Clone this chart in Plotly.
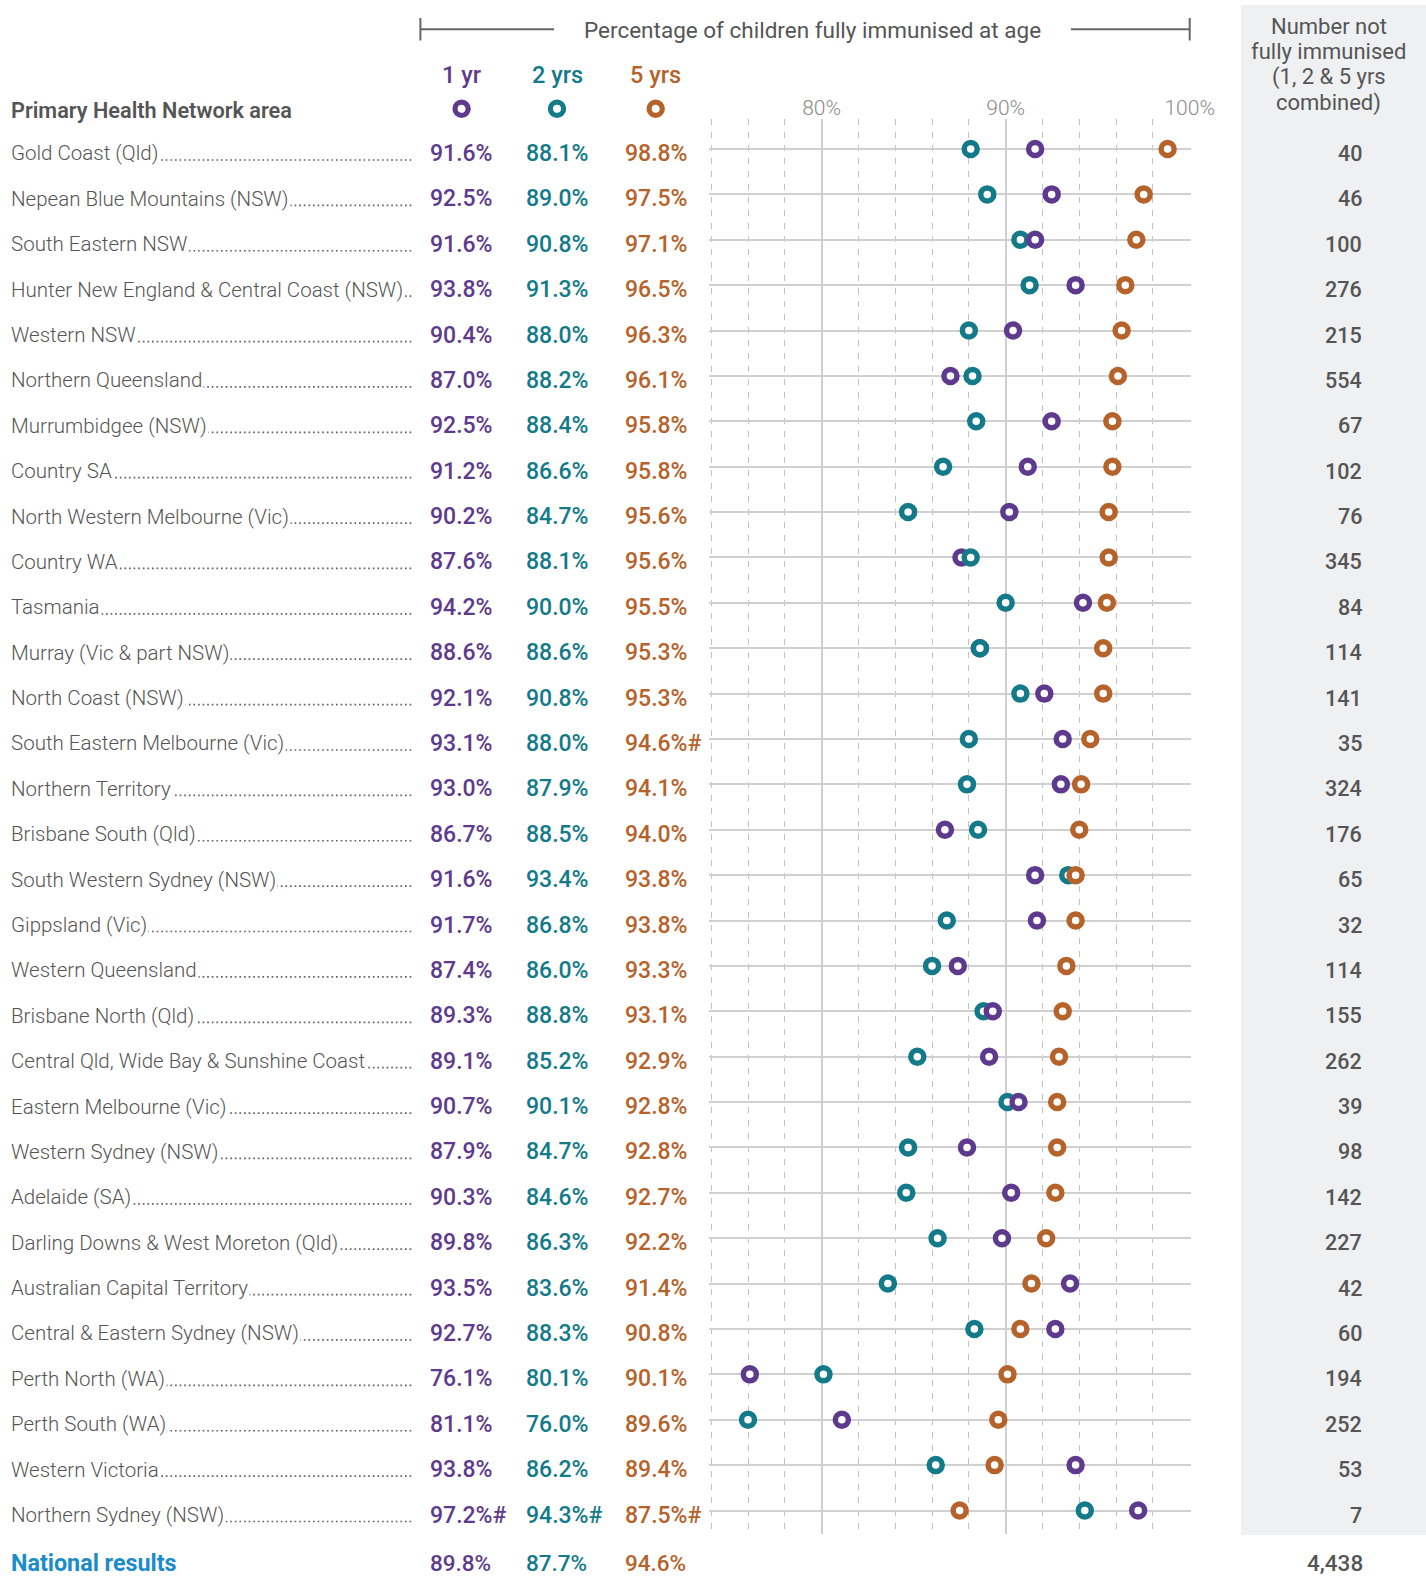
import plotly.graph_objects as go

IMG_W, H = 1426, 1577     # reference picture size (pixel readings below are in this space)
W = 1450                  # layout width used for the page

areas = [
    "Gold Coast (Qld)", "Nepean Blue Mountains (NSW)", "South Eastern NSW",
    "Hunter New England & Central Coast (NSW)", "Western NSW", "Northern Queensland",
    "Murrumbidgee (NSW)", "Country SA", "North Western Melbourne (Vic)", "Country WA",
    "Tasmania", "Murray (Vic & part NSW)", "North Coast (NSW)", "South Eastern Melbourne (Vic)",
    "Northern Territory", "Brisbane South (Qld)", "South Western Sydney (NSW)", "Gippsland (Vic)",
    "Western Queensland", "Brisbane North (Qld)", "Central Qld, Wide Bay & Sunshine Coast",
    "Eastern Melbourne (Vic)", "Western Sydney (NSW)", "Adelaide (SA)",
    "Darling Downs & West Moreton (Qld)", "Australian Capital Territory",
    "Central & Eastern Sydney (NSW)", "Perth North (WA)", "Perth South (WA)",
    "Western Victoria", "Northern Sydney (NSW)",
]
pct_1yr = [91.6, 92.5, 91.6, 93.8, 90.4, 87.0, 92.5, 91.2, 90.2, 87.6, 94.2, 88.6, 92.1, 93.1, 93.0,
           86.7, 91.6, 91.7, 87.4, 89.3, 89.1, 90.7, 87.9, 90.3, 89.8, 93.5, 92.7, 76.1, 81.1, 93.8, 97.2]
pct_2yr = [88.1, 89.0, 90.8, 91.3, 88.0, 88.2, 88.4, 86.6, 84.7, 88.1, 90.0, 88.6, 90.8, 88.0, 87.9,
           88.5, 93.4, 86.8, 86.0, 88.8, 85.2, 90.1, 84.7, 84.6, 86.3, 83.6, 88.3, 80.1, 76.0, 86.2, 94.3]
pct_5yr = [98.8, 97.5, 97.1, 96.5, 96.3, 96.1, 95.8, 95.8, 95.6, 95.6, 95.5, 95.3, 95.3, 94.6, 94.1,
           94.0, 93.8, 93.8, 93.3, 93.1, 92.9, 92.8, 92.8, 92.7, 92.2, 91.4, 90.8, 90.1, 89.6, 89.4, 87.5]
not_immunised = [40, 46, 100, 276, 215, 554, 67, 102, 76, 345, 84, 114, 141, 35, 324, 176, 65, 32,
                 114, 155, 262, 39, 98, 142, 227, 42, 60, 194, 252, 53, 7]
flag_1yr = [30]
flag_2yr = [30]
flag_5yr = [13, 30]
national = [89.8, 87.7, 94.6]
national_not = 4438
series_labels = ["1 yr", "2 yrs", "5 yrs"]
x_ticks = [80, 90, 100]

C1, C2, C5 = "#5e3a8e", "#137a8a", "#b5632a"
colors = [C1, C2, C5]
GREY = "#555555"
FONT = "Roboto, Liberation Sans, Arial, sans-serif"

n = len(areas)
rows = list(range(n))

def px(x):
    return x / IMG_W

def py(y):
    return 1 - y / H

ROW0_PX, ROWN_PX = 149.0, 1510.5
ROW_STEP = (ROWN_PX - ROW0_PX) / (n - 1)
TOP_PX, BOT_PX = 118.5, 1534.0
# x scale: 74% at 711.2 px, 100% at 1189.7 px; the range is padded a little so the
# edge grid lines are kept
X74_PX, X100_PX = 711.2, 1189.7
PX_PER_PCT = (X100_PX - X74_PX) / 26
X_MIN, X_MAX = 73.9, 100.05
X_LEFT_PX = X74_PX - (74 - X_MIN) * PX_PER_PCT
X_RIGHT_PX = X100_PX + (X_MAX - 100) * PX_PER_PCT
y_top = (TOP_PX - ROW0_PX) / ROW_STEP
y_bot = (BOT_PX - ROW0_PX) / ROW_STEP
TXT_OFF = 4.5 / ROW_STEP

fig = go.Figure()

series = [pct_1yr, pct_2yr, pct_5yr]
for rank in range(3):
    xs, cs = [], []
    for i in rows:
        vals = sorted([(series[k][i], k) for k in range(3)])
        v, k = vals[rank]
        xs.append(v)
        cs.append(colors[k])
    fig.add_trace(go.Scatter(
        x=xs, y=rows, mode="markers", showlegend=False, hoverinfo="x",
        marker=dict(symbol="circle", size=13, color="white",
                    line=dict(color=cs, width=5.5)),
        cliponaxis=False,
    ))

ann = []
shapes = []

shapes.append(dict(type="rect", xref="paper", yref="paper", x0=px(1241), x1=1.0,
                   y0=py(1535), y1=py(5), fillcolor="#eff0f2", line=dict(width=0), layer="below"))

TY = 29.3
LC = "#666666"
shapes += [
    dict(type="line", xref="paper", yref="paper", x0=px(420.4), x1=px(554), y0=py(TY), y1=py(TY),
         line=dict(color=LC, width=2)),
    dict(type="line", xref="paper", yref="paper", x0=px(420.4), x1=px(420.4), y0=py(18), y1=py(40.5),
         line=dict(color=LC, width=2)),
    dict(type="line", xref="paper", yref="paper", x0=px(1071), x1=px(1189.7), y0=py(TY), y1=py(TY),
         line=dict(color=LC, width=2)),
    dict(type="line", xref="paper", yref="paper", x0=px(1189.7), x1=px(1189.7), y0=py(18), y1=py(40.5),
         line=dict(color=LC, width=2)),
]
ann.append(dict(text="Percentage of children fully immunised at age", xref="paper", yref="paper",
                x=px(812.6), y=py(TY + 1), xanchor="center", yanchor="middle", showarrow=False,
                font=dict(size=22.5, color=GREY, family=FONT)))

ann.append(dict(text="Primary Health Network area", xref="paper", yref="paper",
                x=px(9), y=py(110.5), xanchor="left", yanchor="middle", showarrow=False,
                font=dict(size=21.7, color=GREY, family=FONT, weight=600)))
head_x = [461.6, 557.0, 655.7]
for lab, hx, c in zip(series_labels, head_x, colors):
    ann.append(dict(text=lab, xref="paper", yref="paper", x=px(hx), y=py(74.5),
                    xanchor="center", yanchor="middle", showarrow=False,
                    font=dict(size=23.5, color=c, family=FONT, weight=500)))
    r = 6.6
    shapes.append(dict(type="circle", xref="paper", yref="paper",
                       x0=px(hx - r), x1=px(hx + r), y0=py(108.8 + r), y1=py(108.8 - r),
                       fillcolor="white", line=dict(color=c, width=5.2)))

for i, t in enumerate(["Number not", "fully immunised", "(1, 2 & 5 yrs", "combined)"]):
    ann.append(dict(text=t, xref="paper", yref="paper", x=px(1328.5), y=py(26 + 25.5 * i),
                    xanchor="center", yanchor="middle", showarrow=False,
                    font=dict(size=22, color=GREY, family=FONT)))

val_x = [427.5, 523.5, 622.5]
NUM_RIGHT = 1364
flags = [flag_1yr, flag_2yr, flag_5yr]
for i in rows:
    yl = i + TXT_OFF + 6.5 / ROW_STEP
    shapes.append(dict(type="line", xref="paper", yref="y", x0=px(14), x1=px(412),
                       y0=yl, y1=yl, line=dict(color="#666666", width=1.7, dash="1.7px,2.9px")))
    ann.append(dict(text=areas[i], xref="paper", yref="y", x=px(9), y=i + TXT_OFF,
                    xanchor="left", yanchor="middle", showarrow=False, bgcolor="white",
                    borderpad=1, font=dict(size=20.5, color=GREY, family=FONT, weight=300)))
    for k in range(3):
        txt = f"{series[k][i]:.1f}%" + ("#" if i in flags[k] else "")
        ann.append(dict(text=txt, xref="paper", yref="y", x=px(val_x[k]), y=i + TXT_OFF,
                        xanchor="left", yanchor="middle", showarrow=False,
                        font=dict(size=23, color=colors[k], family=FONT, weight=500)))
    ann.append(dict(text=f"{not_immunised[i]:,}", xref="paper", yref="y", x=px(NUM_RIGHT), y=i + TXT_OFF,
                    xanchor="right", yanchor="middle", showarrow=False,
                    font=dict(size=21.5, color=GREY, family=FONT, weight=500)))

NY = 1563
ann.append(dict(text="<b>National results</b>", xref="paper", yref="paper", x=px(9), y=py(NY),
                xanchor="left", yanchor="middle", showarrow=False,
                font=dict(size=23.3, color="#1a8ccc", family=FONT)))
for k in range(3):
    ann.append(dict(text=f"{national[k]:.1f}%", xref="paper", yref="paper", x=px(val_x[k]), y=py(NY),
                    xanchor="left", yanchor="middle", showarrow=False,
                    font=dict(size=22.5, color=colors[k], family=FONT, weight=500)))
ann.append(dict(text=f"{national_not:,}", xref="paper", yref="paper", x=px(NUM_RIGHT + 1), y=py(NY),
                xanchor="right", yanchor="middle", showarrow=False,
                font=dict(size=22.5, color=GREY, family=FONT, weight=500)))

fig.update_layout(
    width=W, height=H, autosize=False, margin=dict(l=0, r=0, t=0, b=0, pad=0),
    paper_bgcolor="white", plot_bgcolor="rgba(0,0,0,0)",
    showlegend=False, annotations=ann, shapes=shapes,
    xaxis=dict(domain=[px(X_LEFT_PX), px(X_RIGHT_PX)], range=[X_MIN, X_MAX], side="top",
               tickvals=x_ticks, ticktext=[f"{v}%" for v in x_ticks], ticks="",
               tickfont=dict(size=21, color="#8a8a8a", family=FONT, weight=300),
               showgrid=True, gridcolor="#d0d0d0", gridwidth=1.6, zeroline=False,
               showline=False, ticklabelstandoff=-2,
               minor=dict(dtick=2, tick0=0, showgrid=True, gridcolor="#c2c2c2",
                          gridwidth=1.2, griddash="6px,7px")),
    yaxis=dict(domain=[py(BOT_PX), py(TOP_PX)], range=[y_bot, y_top], showticklabels=False,
               ticks="", tick0=0, dtick=1, showgrid=True, gridcolor="#d0d0d0", gridwidth=2,
               zeroline=False, showline=False),
)

post = ("document.body.style.margin='0';document.body.style.padding='0';"
        "var gd=document.getElementById('{plot_id}');"
        "Plotly.relayout(gd,{width:%d,height:%d});" % (W, H))
fig.write_html("out.html", config={"responsive": False, "displayModeBar": False}, post_script=post)
